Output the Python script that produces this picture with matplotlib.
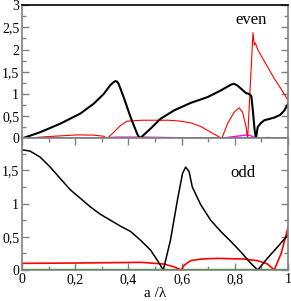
import matplotlib.pyplot as plt
from matplotlib.ticker import MultipleLocator, FuncFormatter

plt.rcParams['font.family'] = ['Liberation Serif', 'DejaVu Serif']

# even modes (top panel)
even_black_x = [0.0, 0.068, 0.143, 0.219, 0.269, 0.307, 0.332, 0.345, 0.351, 0.357, 0.363, 0.382, 0.408,
                0.433, 0.443, 0.483, 0.52, 0.571, 0.634, 0.697, 0.747, 0.785, 0.797, 0.81, 0.823,
                0.842, 0.854, 0.862, 0.868, 0.874, 0.879, 0.886, 0.898, 0.911, 0.93, 0.948, 0.97,
                0.986, 1.0]
even_black_y = [0.0, 0.14, 0.33, 0.56, 0.78, 1.0, 1.2, 1.27, 1.29, 1.28, 1.23, 0.93, 0.48,
                0.1, 0.0, 0.22, 0.44, 0.63, 0.8, 0.93, 1.08, 1.21, 1.23, 1.19, 1.12,
                1.02, 1.0, 0.95, 0.6, 0.2, 0.0, 0.26, 0.35, 0.41, 0.44, 0.47, 0.53,
                0.63, 0.78]
even_red_x = [0.0, 0.106, 0.206, 0.269, 0.307, 0.32, 0.345, 0.37, 0.395, 0.45, 0.55, 0.596, 0.634,
              0.672, 0.709, 0.73, 0.751, 0.772, 0.797, 0.816, 0.829, 0.842, 0.848, 0.858, 0.868,
              0.873, 0.877, 0.886, 0.898, 0.923, 0.948, 0.973, 1.0]
even_red_y = [0.0, 0.045, 0.08, 0.075, 0.05, 0.0, 0.14, 0.29, 0.39, 0.41, 0.41, 0.39, 0.35,
              0.27, 0.14, 0.07, 0.0, 0.33, 0.59, 0.69, 0.59, 0.26, 0.0, 1.2, 2.38,
              2.1, 2.15, 2.0, 1.87, 1.61, 1.35, 1.12, 0.86]
even_magenta_x = [0.0, 0.3, 0.33, 0.36, 0.45, 0.55, 0.7, 0.745, 0.78, 0.82, 0.848, 0.865, 0.88,
                  0.92, 1.0]
even_magenta_y = [0.0, 0.0, 0.02, 0.03, 0.03, 0.02, 0.01, 0.0, 0.03, 0.06, 0.08, 0.05, 0.0,
                  0.02, 0.01]
even_blue_x = [0.0, 0.88, 0.92, 1.0]
even_blue_y = [0.0, 0.0, 0.01, 0.01]

# odd modes (bottom panel)
odd_black_x = [0.0, 0.03, 0.068, 0.106, 0.143, 0.181, 0.219, 0.257, 0.294, 0.332, 0.37, 0.408,
               0.445, 0.483, 0.508, 0.531, 0.558, 0.584, 0.603, 0.615, 0.628, 0.64, 0.672,
               0.709, 0.747, 0.785, 0.823, 0.86, 0.886, 0.923, 0.961, 1.0]
odd_black_y = [1.81, 1.79, 1.70, 1.55, 1.38, 1.21, 1.08, 0.95, 0.84, 0.75, 0.66, 0.58,
               0.45, 0.30, 0.15, 0.0, 0.45, 1.05, 1.45, 1.55, 1.48, 1.25, 0.98,
               0.75, 0.58, 0.43, 0.27, 0.10, 0.0, 0.18, 0.35, 0.53]
odd_red_x = [0.0, 0.2, 0.45, 0.532, 0.57, 0.599, 0.61, 0.634, 0.672, 0.735, 0.835, 0.886,
             0.923, 0.948, 0.974, 1.0]
odd_red_y = [0.10, 0.105, 0.115, 0.09, 0.05, 0.0, 0.075, 0.14, 0.165, 0.175, 0.165, 0.14,
             0.09, 0.0, 0.25, 0.64]
odd_green_x = [0.0, 1.0]
odd_green_y = [0.012, 0.012]
odd_blue_x = [0.0, 1.0]
odd_blue_y = [0.0, 0.0]


def comma(v, pos):
    return ('%g' % v).replace('.', ',')


fig = plt.figure(figsize=(2.91, 3.01), dpi=100)
ax1 = fig.add_axes([0.0756, 0.54, 0.9144, 0.443])
ax2 = fig.add_axes([0.0756, 0.103, 0.9144, 0.437])

ax1.plot(even_blue_x, even_blue_y, color='#1030a0', lw=1.0)
ax1.plot(even_magenta_x, even_magenta_y, color='#ff00ff', lw=1.0)
ax1.plot(even_red_x, even_red_y, color='red', lw=0.8)
ax1.plot(even_black_x, even_black_y, color='black', lw=1.5)
ax1.axhline(0, color='black', lw=1.2)

ax2.plot(odd_blue_x, odd_blue_y, color='#104070', lw=1.4)
ax2.plot(odd_green_x, odd_green_y, color='#00c000', lw=1.0)
ax2.plot(odd_red_x, odd_red_y, color='red', lw=1.2)
ax2.plot(odd_black_x, odd_black_y, color='black', lw=1.1)

ax1.set_ylim(0, 3)
ax2.set_ylim(0, 1.98)
for ax in (ax1, ax2):
    ax.set_xlim(0, 1)
    ax.xaxis.set_major_locator(MultipleLocator(0.2))
    ax.xaxis.set_minor_locator(MultipleLocator(0.1))
    ax.yaxis.set_major_locator(MultipleLocator(0.5))
    ax.yaxis.set_minor_locator(MultipleLocator(0.25))
    ax.yaxis.set_major_formatter(FuncFormatter(comma))
    ax.xaxis.set_major_formatter(FuncFormatter(comma))
    ax.tick_params(which='both', direction='in', color='#808080', labelsize=10, pad=2,
                   right=True, top=True)
    ax.tick_params(which='major', length=5, width=1)
    ax.tick_params(which='minor', length=3, width=1)
    for s in ax.spines.values():
        s.set_color('#808080')
        s.set_linewidth(1.2)

ax1.spines['top'].set_color('black')
ax1.tick_params(which='both', bottom=False, top=False, labelbottom=False)
ax2.set_yticks([0, 0.5, 1, 1.5])

ax1.text(0.86, 2.66, 'even', fontsize=12, ha='center', va='center')
ax2.text(0.83, 1.46, 'odd', fontsize=12, ha='center', va='center')
ax2.set_xlabel('a /λ', fontsize=11, labelpad=1)

fig.savefig('out.png', dpi=100)
